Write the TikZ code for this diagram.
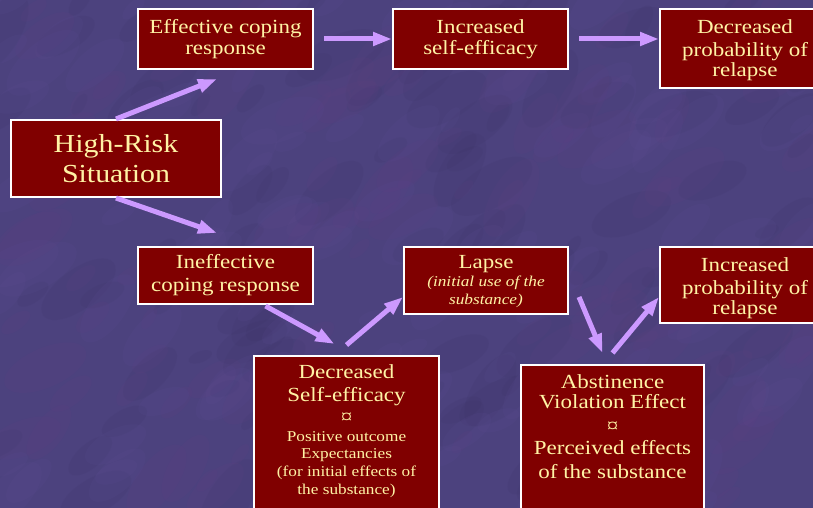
\documentclass[tikz,border=0pt]{standalone}
\usepackage{fontspec}
\setmainfont{Liberation Serif}[FakeStretch=1.15]
\usetikzlibrary{arrows.meta,calc}
\definecolor{bgpurple}{RGB}{76,66,126}
\definecolor{bgdark}{RGB}{58,50,100}
\definecolor{bglight}{RGB}{96,80,150}
\definecolor{bgmauve}{RGB}{100,64,130}
\definecolor{boxred}{RGB}{128,0,0}
\definecolor{txtyellow}{RGB}{255,243,165}
\definecolor{arrowlav}{RGB}{204,153,255}
\begin{document}
\begin{tikzpicture}[x=1pt,y=-1pt,
  box/.style={draw=white, line width=2pt, fill=boxred, text=txtyellow, align=center,
    inner sep=0pt, anchor=north west, font=\fontsize{20}{22}\selectfont},
  boxtext/.style={text=txtyellow, align=center, inner sep=0pt, anchor=north,
    font=\fontsize{20}{22}\selectfont},
  arr/.style={draw=arrowlav, line width=5pt, -{Triangle[length=19pt,width=13pt]}},
  blob/.style={opacity=0.13}
]
\useasboundingbox (0,0) rectangle (813,508);
\clip (0,0) rectangle (813,508);
\fill[bgpurple] (0,0) rectangle (813,508);
\pgfmathsetseed{11}
\foreach \c in {bgdark,bglight,bgmauve}{
  \foreach \i in {1,...,110}{
    \pgfmathsetmacro{\xx}{rnd*813}
    \pgfmathsetmacro{\yy}{rnd*508}
    \pgfmathsetmacro{\rr}{12+rnd*35}
    \pgfmathsetmacro{\aa}{20+rnd*40}
    \fill[\c, blob, rotate around={\aa:(\xx,\yy)}] (\xx,\yy) ellipse ({\rr} and {\rr*0.45});
  }
}

% boxes
\node[box, minimum width=175pt, minimum height=60pt] (eff) at (137,8)
  {Effective coping\\[-1pt]response};
\node[box, minimum width=175pt, minimum height=60pt] (inc) at (392,8)
  {Increased\\[-1pt]self-efficacy};
\node[box, minimum width=170pt, minimum height=79pt] (dec) at (659,8) {};
\node[boxtext] (dectext) at ($(dec.north)+(0,11)$)
  {Decreased\\[1pt]probability of\\[-2pt]relapse};
\node[box, minimum width=210pt, minimum height=77pt, font=\fontsize{26}{30}\selectfont] (hr) at (10,119)
  {High-Risk\\Situation};
\node[box, minimum width=175pt, minimum height=57pt] (ineff) at (137,246)
  {Ineffective\\[1pt]coping response};
\node[box, minimum width=164pt, minimum height=67pt] (lapse) at (403,246) {};
\node[boxtext] (lapsetext) at ($(lapse.north)+(0,9)$)
  {Lapse\\[-4pt]{\fontsize{15}{18}\selectfont\itshape (initial use of the}\\[-4pt]{\fontsize{15}{18}\selectfont\itshape substance)}};
\node[box, minimum width=170pt, minimum height=76pt] (incp) at (659,246) {};
\node[boxtext] (incptext) at ($(incp.north)+(0,11)$)
  {Increased\\[1pt]probability of\\[-2pt]relapse};
\node[box, minimum width=185pt, minimum height=175pt] (dse) at (253,355) {};
\node[boxtext] (dsetext) at ($(dse.north)+(0,9)$)
  {Decreased\\[1pt]Self-efficacy\\[0pt]¤\\[-4pt]
   {\fontsize{15}{18}\selectfont Positive outcome}\\[-5pt]
   {\fontsize{15}{18}\selectfont Expectancies}\\[-4pt]
   {\fontsize{15}{18}\selectfont (for initial effects of}\\[-4pt]
   {\fontsize{15}{18}\selectfont the substance)}};
\node[box, minimum width=183pt, minimum height=165pt] (ave) at (520,364) {};
\node[boxtext] (avetext) at ($(ave.north)+(0,10)$)
  {Abstinence\\[-2pt]Violation Effect\\[2pt]¤\\[0pt]
   Perceived effects\\[2pt]of the substance};

% connector end points
\coordinate (hrA) at (217,79);
\coordinate (hrB) at (217,233);

% connectors
\draw[arr] (hr.north) -- (hrA);
\draw[arr] (hr.south) -- (hrB);
\draw[arr] ([xshift=10pt]eff.east) -- (inc.west);
\draw[arr] ([xshift=10pt]inc.east) -- (inc.east -| dec.west);
\draw[arr] ([xshift=40pt,yshift=-1pt]ineff.south) -- ([xshift=-12pt,yshift=11pt]dse.north);
\draw[arr] ([yshift=10pt]dse.north) -- ([yshift=18pt]lapse.south west);
\draw[arr] ([xshift=10pt,yshift=18pt]lapse.south east) -- ([xshift=-10pt,yshift=11pt]ave.north);
\draw[arr] ([yshift=11pt]ave.north) -- ([yshift=27pt]incp.south west);
\end{tikzpicture}
\end{document}
